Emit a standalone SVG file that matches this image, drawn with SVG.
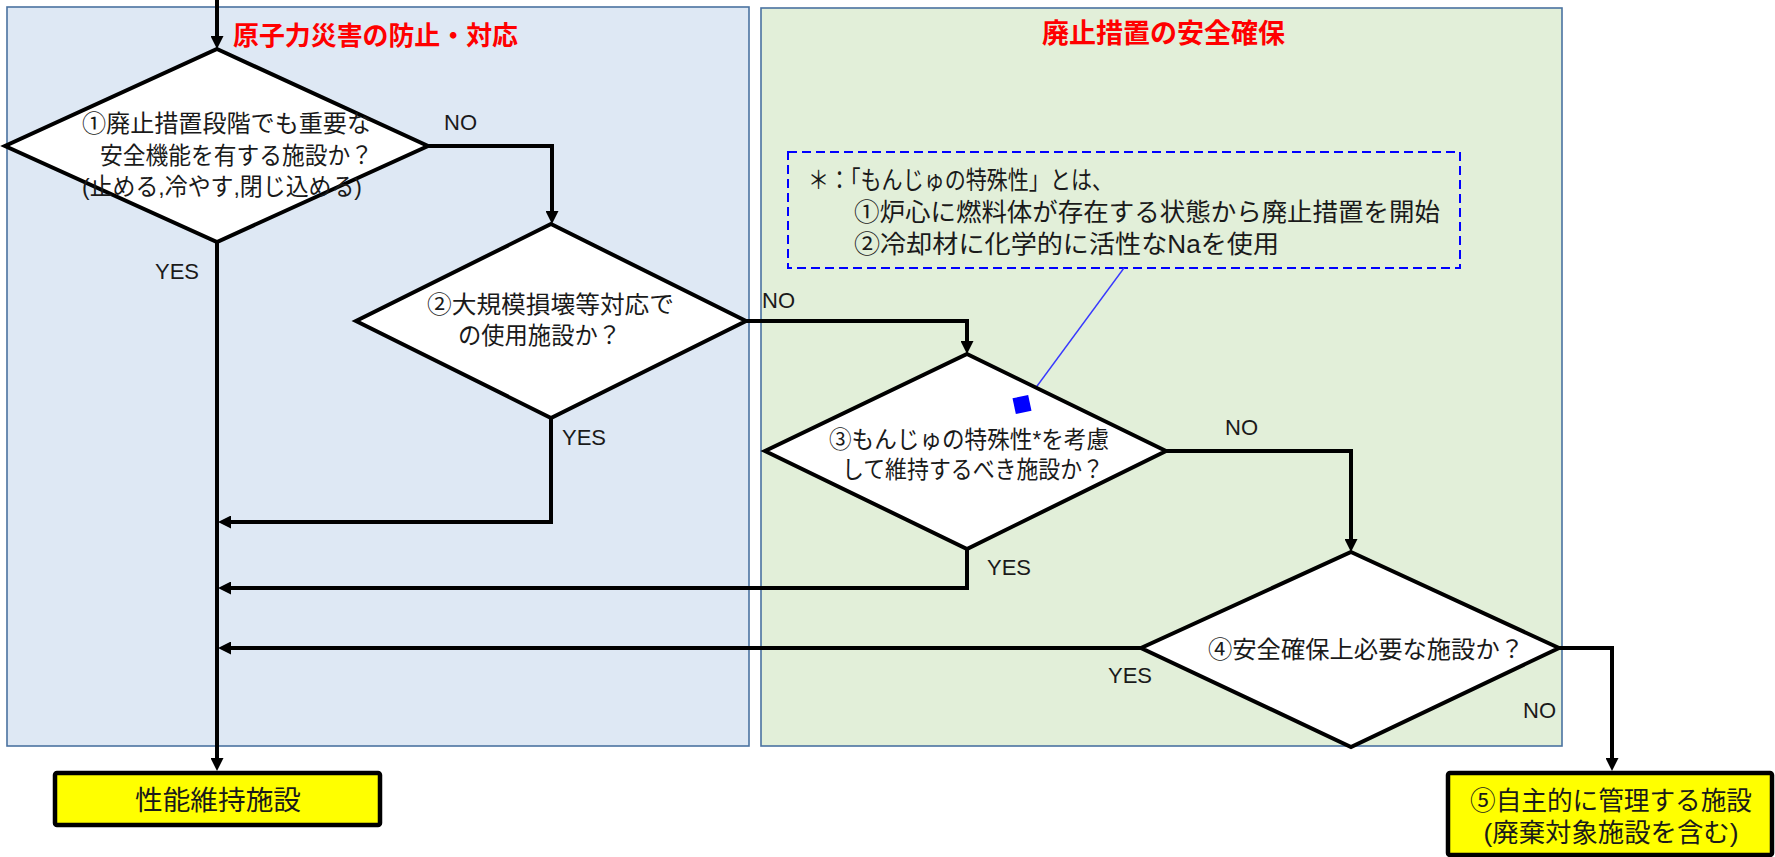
<svg xmlns="http://www.w3.org/2000/svg" width="1775" height="857" viewBox="0 0 1775 857">
<defs>
<marker id="ah" viewBox="0 0 13 13" refX="4" refY="6.5" markerWidth="13" markerHeight="13" markerUnits="userSpaceOnUse" orient="auto">
<path d="M0,0 L13,6.5 L0,13 z" fill="#000"/>
</marker>
<style>
.panel{stroke:#4A72A0;stroke-width:1.6}
.dia{fill:#fff;stroke:#000;stroke-width:4;stroke-linejoin:miter}
.box{fill:#FFFF00;stroke:#000;stroke-width:4.5}
.conn{fill:none;stroke:#000;stroke-width:4;marker-end:url(#ah)}
.t{font-family:"Liberation Sans","Noto Sans CJK JP",sans-serif;font-size:24px;fill:#1a1a1a}
.lbl{font-family:"Liberation Sans",sans-serif;font-size:22px;fill:#1a1a1a}
.title{font-family:"Liberation Sans","Noto Sans CJK JP",sans-serif;font-weight:bold;fill:#FF0000}
.note{font-family:"Liberation Sans","Noto Sans CJK JP",sans-serif;font-size:25px;fill:#1a1a1a}
.big{font-family:"Liberation Sans","Noto Sans CJK JP",sans-serif;fill:#1a1a1a}
</style>
</defs>
<rect width="1775" height="857" fill="#fff"/>
<g id="panel-left">
<rect class="panel" x="7" y="7" width="742" height="739" fill="#DEE8F4"/>
<text class="title" x="233" y="45" font-size="26" textLength="285" lengthAdjust="spacingAndGlyphs">原子力災害の防止・対応</text>
</g>
<g id="panel-right">
<rect class="panel" x="761" y="8" width="801" height="738" fill="#E2EFD9"/>
<text class="title" x="1042" y="42.5" font-size="27">廃止措置の安全確保</text>
</g>
<g id="note">
<rect x="788" y="152" width="672" height="116" fill="none" stroke="#0000FF" stroke-width="2" stroke-dasharray="9,5"/>
<text class="note" x="808" y="188.5" textLength="305" lengthAdjust="spacingAndGlyphs">＊：「もんじゅの特殊性」とは、</text>
<text class="note" x="854" y="220.5" textLength="586" lengthAdjust="spacingAndGlyphs">①炉心に燃料体が存在する状態から廃止措置を開始</text>
<text class="note" x="854" y="252.5" textLength="425" lengthAdjust="spacingAndGlyphs">②冷却材に化学的に活性なNaを使用</text>
</g>
<g id="connectors">
<path class="conn" d="M217,0 V40"/>
<path class="conn" d="M428,146 H552 V215"/>
<path class="conn" d="M217,242 V762"/>
<path class="conn" d="M746,321 H967 V345"/>
<path class="conn" d="M551,418 V522 H227"/>
<path class="conn" d="M1166,451 H1351 V543"/>
<path class="conn" d="M967,549 V588 H227"/>
<path class="conn" d="M1141,648 H227"/>
<path class="conn" d="M1559,648 H1612 V762"/>
<line x1="1124" y1="268" x2="1029" y2="397" stroke="#3838FF" stroke-width="1.4"/>
</g>
<g id="d1">
<polygon class="dia" points="217,49 428,146 217,242 5,146"/>
<text class="t" x="82" y="132" textLength="289" lengthAdjust="spacingAndGlyphs">①廃止措置段階でも重要な</text>
<text class="t" x="100" y="164" textLength="273" lengthAdjust="spacingAndGlyphs">安全機能を有する施設か？</text>
<text class="t" x="82" y="195" textLength="280" lengthAdjust="spacingAndGlyphs">(止める,冷やす,閉じ込める)</text>
</g>
<g id="d2">
<polygon class="dia" points="551,224 746,321 551,418 356,321"/>
<text class="t" x="427" y="313" textLength="247" lengthAdjust="spacingAndGlyphs">②大規模損壊等対応で</text>
<text class="t" x="458" y="344" textLength="163" lengthAdjust="spacingAndGlyphs">の使用施設か？</text>
</g>
<g id="d3">
<polygon class="dia" points="967,354 1166,451 967,549 765,451"/>
<text class="t" x="829" y="448" textLength="280" lengthAdjust="spacingAndGlyphs">③もんじゅの特殊性*を考慮</text>
<text class="t" x="842" y="478" textLength="262" lengthAdjust="spacingAndGlyphs">して維持するべき施設か？</text>
<rect x="1014" y="396.5" width="16" height="16" fill="#0000FF" transform="rotate(-12 1022 404.5)"/>
</g>
<g id="d4">
<polygon class="dia" points="1351,552 1559,648 1351,747 1141,648"/>
<text class="t" x="1208" y="658" textLength="316" lengthAdjust="spacingAndGlyphs">④安全確保上必要な施設か？</text>
</g>
<g id="labels">
<text class="lbl" x="444" y="130">NO</text>
<text class="lbl" x="155" y="279">YES</text>
<text class="lbl" x="762" y="308">NO</text>
<text class="lbl" x="562" y="445">YES</text>
<text class="lbl" x="1225" y="435">NO</text>
<text class="lbl" x="987" y="575">YES</text>
<text class="lbl" x="1108" y="683">YES</text>
<text class="lbl" x="1523" y="718">NO</text>
</g>
<g id="box1">
<rect class="box" x="55" y="773" width="325" height="52" rx="2"/>
<text class="big" x="218" y="810" font-size="27" text-anchor="middle" textLength="166" lengthAdjust="spacingAndGlyphs">性能維持施設</text>
</g>
<g id="box5">
<rect class="box" x="1448" y="773" width="324" height="82" rx="2"/>
<text class="big" x="1611" y="810" font-size="26" text-anchor="middle" textLength="282" lengthAdjust="spacingAndGlyphs">⑤自主的に管理する施設</text>
<text class="big" x="1611" y="842" font-size="26" text-anchor="middle" textLength="255" lengthAdjust="spacingAndGlyphs">(廃棄対象施設を含む)</text>
</g>
</svg>
